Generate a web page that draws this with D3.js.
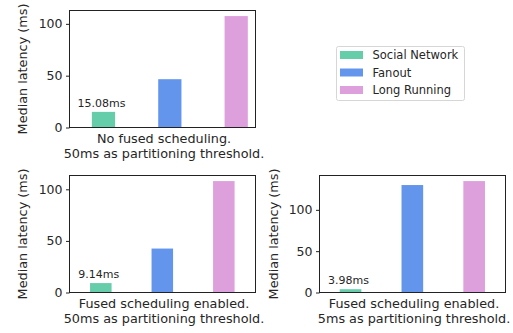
<!DOCTYPE html>
<html><head><meta charset="utf-8">
<script src="https://cdn.jsdelivr.net/npm/d3@7"></script>
<style>body{margin:0;background:#fff}svg{display:block}text{font-family:"DejaVu Sans",sans-serif;fill:#262626}</style>
</head><body><svg id="c" width="513" height="333"></svg>
<script>
const categories = ["Social Network", "Fanout", "Long Running"];
const colors = ["#66cdaa", "#6495ed", "#dda0dd"];
const noFusedValues = [15.08, 46.6, 107.5];
const fused50Values = [9.14, 42.6, 108.0];
const fused5Values = [3.98, 130.0, 134.8];
const barLabels = ["15.08ms", "9.14ms", "3.98ms"];
const yTicks = [0, 50, 100];
const xLabels = [
  ["No fused scheduling.", "50ms as partitioning threshold."],
  ["Fused scheduling enabled.", "50ms as partitioning threshold."],
  ["Fused scheduling enabled.", "5ms as partitioning threshold."]
];
const yTitle = "Median latency (ms)";

const panels = [
  {vals: noFusedValues, x0: 69.5, x1: 255.5, y0: 10.5, y1: 127.5, xd: [-0.512, 2.291], lab: 0, ylx: 23},
  {vals: fused50Values, x0: 69.5, x1: 255.5, y0: 175.5, y1: 292.5, xd: [-0.509, 2.515], lab: 1, ylx: 23},
  {vals: fused5Values, x0: 319.5, x1: 505.5, y0: 175.5, y1: 292.5, xd: [-0.502, 2.507], lab: 2, ylx: 273.5}
];
const svg = d3.select("#c");
const bw = 0.35;

panels.forEach(p => {
  const x = d3.scaleLinear().domain(p.xd).range([p.x0, p.x1]);
  const y = d3.scaleLinear().domain([0, d3.max(p.vals) * 1.05]).range([p.y1, p.y0]);
  const g = svg.append("g");
  g.selectAll("rect.bar").data(p.vals).join("rect").attr("class", "bar")
    .attr("x", (d, i) => x(i - bw / 2)).attr("width", x(bw) - x(0))
    .attr("y", d => y(d)).attr("height", d => y(0) - y(d))
    .attr("fill", (d, i) => colors[i]);
  g.append("rect").attr("x", p.x0).attr("y", p.y0).attr("width", p.x1 - p.x0).attr("height", p.y1 - p.y0)
    .attr("fill", "none").attr("stroke", "#222").attr("stroke-width", 1);
  const ax = d3.axisLeft(y).tickValues(yTicks).tickSize(3.5).tickPadding(3.5).tickFormat(d3.format("d"));
  const ag = g.append("g").attr("transform", `translate(${p.x0},0)`).call(ax);
  ag.select(".domain").remove();
  ag.selectAll("line").attr("stroke", "#222");
  ag.selectAll("text").style("font-size", "12.5px").attr("fill", "#262626");
  g.append("text").attr("x", x(0) - 2).attr("y", y(p.vals[0]) - 5)
    .attr("text-anchor", "middle").style("font-size", "11px").text(barLabels[p.lab]);
  const cx = (p.x0 + p.x1) / 2 + 1.5;
  xLabels[p.lab].forEach((t, k) => {
    g.append("text").attr("x", cx).attr("y", p.y1 + 15 + k * 15)
      .attr("text-anchor", "middle").style("font-size", "12.8px").text(t);
  });
  const cy = (p.y0 + p.y1) / 2;
  g.append("text").attr("transform", `translate(${p.ylx},${cy}) rotate(-90)`)
    .attr("text-anchor", "middle").attr("dy", "0.35em").style("font-size", "12.8px").text(yTitle);
});

const lg = svg.append("g");
lg.append("rect").attr("x", 336.5).attr("y", 46.5).attr("width", 128).attr("height", 54).attr("rx", 2)
  .attr("fill", "#fff").attr("fill-opacity", 0.8).attr("stroke", "#d6d6d6");
categories.forEach((c, i) => {
  const yy = 55 + i * 17.5;
  lg.append("rect").attr("x", 340).attr("y", yy - 4).attr("width", 23).attr("height", 8).attr("fill", colors[i]);
  lg.append("text").attr("x", 372.5).attr("y", yy).attr("dy", "0.35em").style("font-size", "11.5px").text(c);
});
</script></body></html>
